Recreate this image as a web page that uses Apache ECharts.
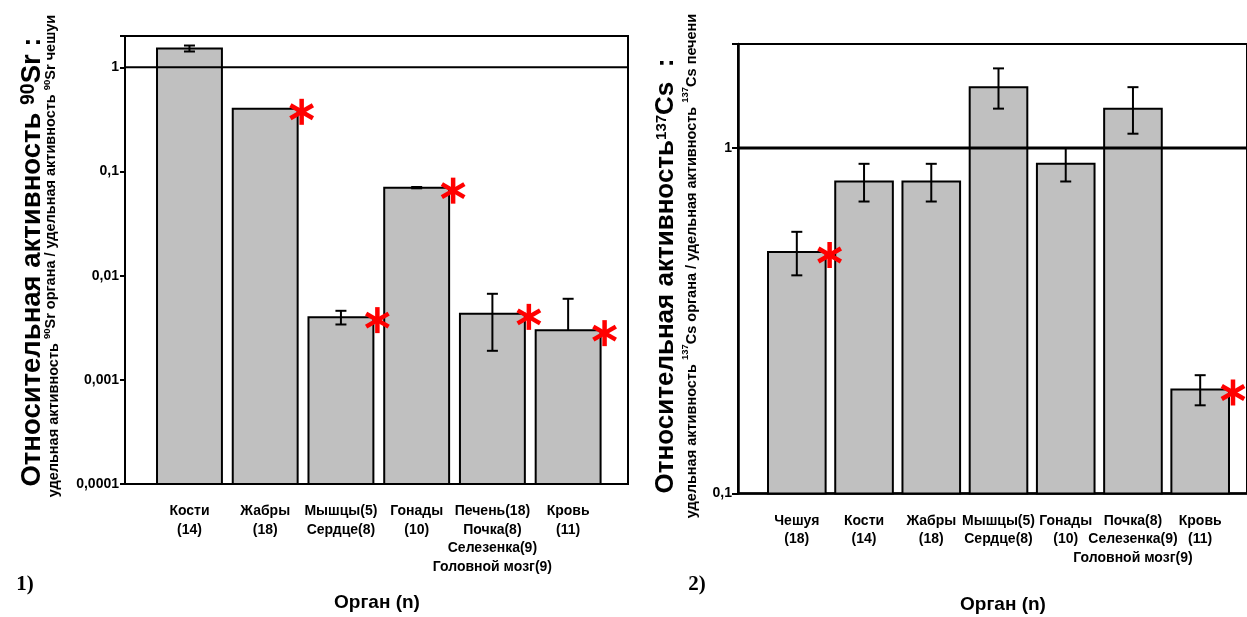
<!DOCTYPE html>
<html>
<head>
<meta charset="utf-8">
<script src="https://cdn.jsdelivr.net/npm/echarts@6/dist/echarts.min.js"></script>
<style>
  html, body { margin: 0; padding: 0; background: #fff; }
  #chart { width: 1247px; height: 617px; }
</style>
</head>
<body>
<div id="chart"></div>
<script>
// ---- Panel 1: 90Sr, organ activity relative to scales ----
const srOrgans = ['Кости\n(14)', 'Жабры\n(18)', 'Мышцы(5)\nСердце(8)', 'Гонады\n(10)',
  'Печень(18)\nПочка(8)\nСелезенка(9)\nГоловной мозг(9)', 'Кровь\n(11)'];
const srValues = [1.52, 0.40, 0.0040, 0.070, 0.0043, 0.0030];
const srErrors = [0.10, 0, 0.0006, 0.001, 0.0024, 0.0030];
const srSignificant = [false, true, true, true, true, true];
const srRange = [0.0001, 2];
const srTickValues = [0.0001, 0.001, 0.01, 0.1, 1];
const srTickLabels = ['0,0001', '0,001', '0,01', '0,1', '1'];

// ---- Panel 2: 137Cs, organ activity relative to liver ----
const csOrgans = ['Чешуя\n(18)', 'Кости\n(14)', 'Жабры\n(18)', 'Мышцы(5)\nСердце(8)', 'Гонады\n(10)',
  'Почка(8)\nСелезенка(9)\nГоловной мозг(9)', 'Кровь\n(11)'];
const csValues = [0.50, 0.80, 0.80, 1.50, 0.90, 1.30, 0.20];
const csErrors = [0.072, 0.10, 0.10, 0.20, 0.10, 0.20, 0.02];
const csSignificant = [true, false, false, false, false, false, true];
const csRange = [0.1, 2];
const csTickValues = [0.1, 1];
const csTickLabels = ['0,1', '1'];

const referenceLevel = 1;

const SANS = '"Liberation Sans", Arial, sans-serif';
const SERIF = '"Liberation Serif", "Times New Roman", serif';
const BAR_RATIO = 0.857;
const CAP = 5.5;

function tickFormatter(values, labels) {
  return function (v) {
    const k = values.findIndex(t => Math.abs(Math.log10(t) - Math.log10(v)) < 1e-6);
    return k >= 0 ? labels[k] : '';
  };
}

function rows(values, errors, flags) {
  return values.map((v, i) => [i, v, errors[i], flags[i] ? 1 : 0]);
}

// grey bars from the axis floor up to the value
function renderBar(params, api) {
  const cs = params.coordSys;
  const n = params.dataInsideLength;
  const top = api.coord([api.value(0), api.value(1)]);
  const w = (cs.width / n) * BAR_RATIO;
  const bottom = cs.y + cs.height;
  return {
    type: 'rect',
    shape: { x: top[0] - w / 2, y: top[1], width: w, height: bottom - top[1] },
    style: { fill: '#c0c0c0', stroke: '#000', lineWidth: 2 }
  };
}

// error bars and red significance asterisks
function renderMarks(params, api) {
  const cs = params.coordSys;
  const n = params.dataInsideLength;
  const idx = api.value(0), v = api.value(1), e = api.value(2), sig = api.value(3);
  const top = api.coord([idx, v]);
  const w = (cs.width / n) * BAR_RATIO;
  const children = [];
  const blk = { stroke: '#000', lineWidth: 2 };
  if (e > 0) {
    const x = top[0];
    const hi = api.coord([idx, v + e]);
    const lo = v - e > 0 ? api.coord([idx, v - e]) : null;
    children.push({ type: 'line', shape: { x1: x, y1: hi[1], x2: x, y2: lo ? lo[1] : top[1] }, style: blk });
    children.push({ type: 'line', shape: { x1: x - CAP, y1: hi[1], x2: x + CAP, y2: hi[1] }, style: blk });
    if (lo) children.push({ type: 'line', shape: { x1: x - CAP, y1: lo[1], x2: x + CAP, y2: lo[1] }, style: blk });
  }
  if (sig) {
    const cx = top[0] + w / 2 + 4, cy = top[1] + 3, r = 13;
    [90, 30, 150].forEach(a => {
      const rad = a * Math.PI / 180;
      const dx = r * Math.cos(rad), dy = r * Math.sin(rad);
      children.push({
        type: 'line',
        shape: { x1: cx - dx, y1: cy - dy, x2: cx + dx, y2: cy + dy },
        style: { stroke: '#ff0000', lineWidth: 4.5 }
      });
    });
  }
  return { type: 'group', children };
}

const tickLabelStyle = { color: '#000', fontFamily: SANS, fontWeight: 'bold', fontSize: 14, margin: 6 };
const catLabelStyle = { interval: 0, color: '#000', fontFamily: SANS, fontWeight: 'bold', fontSize: 14, lineHeight: 18.5, margin: 18 };

const titleRich = {
  m: { fontSize: 27.5, fontWeight: 'bold', fontFamily: SANS, fill: '#000' },
  sup: { fontSize: 19.5, fontWeight: 'bold', fontFamily: SANS, fill: '#000', padding: [0, 0, 6, 0] },
  m2: { fontSize: 26, fontWeight: 'bold', fontFamily: SANS, fill: '#000' },
  sup2: { fontSize: 15, fontWeight: 'bold', fontFamily: SANS, fill: '#000', padding: [0, 0, 8, 0] },
  s: { fontSize: 14.5, fontWeight: 'bold', fontFamily: SANS, fill: '#000' },
  s2: { fontSize: 14.5, fontWeight: 'bold', fontFamily: SANS, fill: '#000', padding: [0, 0, 6, 0] },
  ss: { fontSize: 9.5, fontWeight: 'bold', fontFamily: SANS, fill: '#000', padding: [0, 0, 14, 0] }
};

const option = {
  animation: false,
  backgroundColor: '#fff',
  grid: [
    { left: 125, top: 36, width: 503, height: 448, show: true, borderColor: '#000', borderWidth: 2, backgroundColor: 'transparent' },
    { left: 151.6, top: 36, width: 454.4, height: 448 },
    { left: 738, top: 44, width: 530, height: 449.5, show: true, borderColor: '#000', borderWidth: 2, backgroundColor: 'transparent' },
    { left: 763.2, top: 44, width: 470.6, height: 449.5 }
  ],
  xAxis: [
    { gridIndex: 0, type: 'value', min: 0, max: 1, axisLine: { lineStyle: { color: '#000', width: 2 } },
      axisTick: { show: false }, axisLabel: { show: false }, splitLine: { show: false } },
    { gridIndex: 1, type: 'category', data: srOrgans, axisLine: { show: false },
      axisTick: { alignWithLabel: true, length: 6, lineStyle: { color: '#000', width: 2 } },
      axisLabel: catLabelStyle, splitLine: { show: false } },
    { gridIndex: 2, type: 'value', min: 0, max: 1, axisLine: { lineStyle: { color: '#000', width: 2.5 } },
      axisTick: { show: false }, axisLabel: { show: false }, splitLine: { show: false } },
    { gridIndex: 3, type: 'category', data: csOrgans, axisLine: { show: false },
      axisTick: { alignWithLabel: true, length: 6, lineStyle: { color: '#000', width: 2 } },
      axisLabel: catLabelStyle, splitLine: { show: false } }
  ],
  yAxis: [
    { gridIndex: 0, type: 'log', logBase: 10, min: srRange[0], max: srRange[1],
      axisLine: { show: true, lineStyle: { color: '#000', width: 2 } },
      axisTick: { show: true, length: 5, lineStyle: { color: '#000', width: 2 } },
      axisLabel: Object.assign({ formatter: tickFormatter(srTickValues, srTickLabels) }, tickLabelStyle),
      splitLine: { show: false } },
    { gridIndex: 1, type: 'log', logBase: 10, min: srRange[0], max: srRange[1], show: false },
    { gridIndex: 2, type: 'log', logBase: 10, min: csRange[0], max: csRange[1],
      axisLine: { show: true, lineStyle: { color: '#000', width: 2.5 } },
      axisTick: { show: true, length: 6, lineStyle: { color: '#000', width: 2 } },
      axisLabel: Object.assign({ formatter: tickFormatter(csTickValues, csTickLabels) }, tickLabelStyle),
      splitLine: { show: false } },
    { gridIndex: 3, type: 'log', logBase: 10, min: csRange[0], max: csRange[1], show: false }
  ],
  series: [
    { type: 'custom', xAxisIndex: 1, yAxisIndex: 1, z: 2, encode: { x: 0, y: 1 },
      data: rows(srValues, srErrors, srSignificant), renderItem: renderBar },
    { type: 'line', xAxisIndex: 0, yAxisIndex: 0, z: 3, symbol: 'none',
      data: [[0, referenceLevel], [1, referenceLevel]], lineStyle: { color: '#000', width: 2 } },
    { type: 'custom', xAxisIndex: 1, yAxisIndex: 1, z: 4, encode: { x: 0, y: 1 },
      data: rows(srValues, srErrors, srSignificant), renderItem: renderMarks },

    { type: 'custom', xAxisIndex: 3, yAxisIndex: 3, z: 2, encode: { x: 0, y: 1 },
      data: rows(csValues, csErrors, csSignificant), renderItem: renderBar },
    { type: 'line', xAxisIndex: 2, yAxisIndex: 2, z: 3, symbol: 'none',
      data: [[0, referenceLevel], [1, referenceLevel]], lineStyle: { color: '#000', width: 3 } },
    { type: 'custom', xAxisIndex: 3, yAxisIndex: 3, z: 4, encode: { x: 0, y: 1 },
      data: rows(csValues, csErrors, csSignificant), renderItem: renderMarks }
  ],
  graphic: [
    { type: 'text', x: 32, y: 262, rotation: Math.PI / 2, z: 10,
      style: { text: '{m|Относительная активность }{sup|90}{m|Sr :}', align: 'center', verticalAlign: 'middle', rich: titleRich } },
    { type: 'text', x: 54, y: 256, rotation: Math.PI / 2, z: 10,
      style: { text: '{s|удельная активность }{ss|90}{s2|Sr органа / удельная активность }{ss|90}{s2|Sr чешуи}',
        align: 'center', verticalAlign: 'middle', rich: titleRich } },
    { type: 'text', x: 666, y: 276, rotation: Math.PI / 2, z: 10,
      style: { text: '{m2|Относительная активность}{sup2|137}{m2|Cs  :}', align: 'center', verticalAlign: 'middle', rich: titleRich } },
    { type: 'text', x: 692, y: 266, rotation: Math.PI / 2, z: 10,
      style: { text: '{s|удельная активность }{ss|137}{s|Cs органа / удельная активность }{ss|137}{s|Cs печени}',
        align: 'center', verticalAlign: 'middle', rich: titleRich } },
    { type: 'text', x: 377, y: 603, z: 10,
      style: { text: 'Орган (n)', align: 'center', verticalAlign: 'middle', fill: '#000',
        fontSize: 19, fontWeight: 'bold', fontFamily: SANS } },
    { type: 'text', x: 1003, y: 605, z: 10,
      style: { text: 'Орган (n)', align: 'center', verticalAlign: 'middle', fill: '#000',
        fontSize: 19, fontWeight: 'bold', fontFamily: SANS } },
    { type: 'text', x: 25, y: 585, z: 10,
      style: { text: '1)', align: 'center', verticalAlign: 'middle', fill: '#000',
        fontSize: 21, fontWeight: 'bold', fontFamily: SERIF } },
    { type: 'text', x: 697, y: 585, z: 10,
      style: { text: '2)', align: 'center', verticalAlign: 'middle', fill: '#000',
        fontSize: 21, fontWeight: 'bold', fontFamily: SERIF } }
  ]
};

const chart = echarts.init(document.getElementById('chart'), null, { renderer: 'canvas' });
chart.setOption(option);
</script>
</body>
</html>
